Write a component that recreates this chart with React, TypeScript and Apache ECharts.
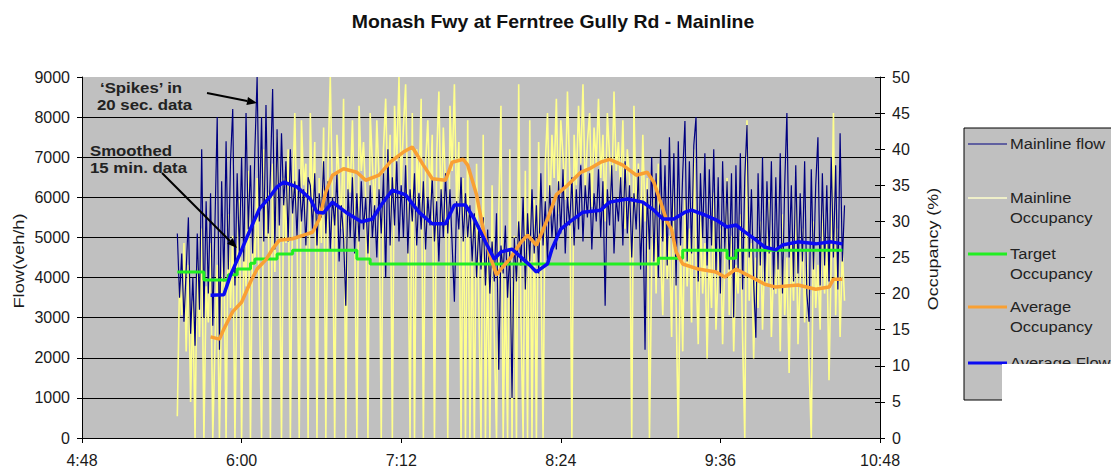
import React, { useEffect, useRef } from "react";
import * as echarts from "echarts";

const FONT = '"Liberation Sans", Arial, Helvetica, sans-serif';
const TITLE = "Monash Fwy at Ferntree Gully Rd - Mainline";
const FLOW_NAME = "Flow(veh/h)";
const OCC_AXIS_NAME = "Occupancy (%)";

// X axis: 4:48 .. 10:48 every 72 minutes (values in minutes of the day)
const X_MIN = "4:48";
const X_MAX = "10:48";
const X_STEP_MIN = 72;

// 20-sec data, read here at one sample per minute from 5:31
const RAW_START = "5:31";
const RAW_STEP_MIN = 1;
const MAINLINE_FLOW = [
  5100, 3500, 4600, 2900, 4200, 5500, 2600, 4000, 2300, 5100,
  3200, 7200, 3000, 5900, 3600, 6100, 2800, 5400, 8000, 2200,
  6400, 3900, 7400, 4200, 6900, 8200, 3800, 6600, 4600, 7000,
  4400, 8100, 5200, 6800, 4600, 7200, 9000, 5400, 8000, 4900,
  8300, 5100, 6600, 8700, 4700, 7700, 5300, 7600, 5800, 6900,
  4900, 7200, 5600, 6400, 5000, 6700, 5400, 6200, 4800, 6500,
  6300, 5200, 6600, 4800, 6100, 5500, 6900, 5100, 6400, 4700,
  6000, 5300, 6600, 4400, 5800, 5000, 3300, 6200, 5000, 6500,
  4600, 6100, 4900, 6400, 5200, 6000, 4600, 6300, 5000, 5800,
  4500, 6200, 5100, 6600, 4000, 7200, 4800, 6500, 5300, 6900,
  4900, 6300, 5000, 6800, 4600, 6200, 5400, 6600, 4800, 6100,
  5200, 6400, 4700, 6000, 5300, 6500, 4900, 5900, 4400, 6200,
  5000, 6600, 5100, 6200, 4800, 3400, 5900, 5200, 6500, 4900,
  6100, 5000, 5800, 4400, 5600, 4000, 5300, 4200, 5500, 3800,
  5200, 3600, 4900, 3900, 5600, 1700, 4800, 4100, 5300, 3500,
  4700, 1000, 5000, 3900, 5400, 4300, 6000, 3700, 5600, 4400,
  6200, 4600, 5800, 4100, 6600, 4800, 5900, 4400, 6300, 5000,
  5800, 4700, 6400, 5100, 6700, 4600, 6000, 5300, 6500, 4800,
  6200, 5200, 6800, 4900, 6300, 5500, 6600, 4700, 6100, 5400,
  6700, 5000, 6400, 3300, 6200, 5300, 6800, 4600, 6000, 5400,
  6500, 4800, 6900, 5100, 6300, 4500, 6100, 5200, 6700, 4200,
  5900, 2200, 6200, 4700, 7000, 4400, 6600, 4000, 7200, 4900,
  6800, 4300, 7500, 5000, 7100, 3800, 7400, 4800, 6600, 7900,
  4400, 6900, 4600, 7300, 8000, 3900, 6600, 5000, 7100, 4300,
  6700, 4800, 7200, 4100, 6500, 3600, 6900, 4700, 6400, 4200,
  6600, 3000, 6800, 4200, 7100, 3700, 6500, 7800, 4500, 6200,
  3900, 2500, 6600, 4300, 7000, 3900, 6400, 4600, 6900, 3700,
  6500, 4200, 7100, 3600, 6300, 8100, 4500, 6300, 3900, 6800,
  4100, 6100, 4400, 6900, 3600, 2900, 6700, 4200, 6300, 7500,
  3800, 6600, 4300, 6300, 3900, 7000, 4500, 6800, 3700, 7600,
  4400, 5800,
];
const MAINLINE_OCC = [
  3, 22, 17, 27, 12, 24, 5, 19, 0, 26,
  14, 29, 0, 21, 16, 27, 0, 13, 24, 0,
  20, 26, 0, 31, 18, 28, 0, 24, 33, 0,
  27, 21, 37, 0, 30, 24, 36, 19, 0, 40,
  28, 34, 0, 38, 23, 42, 30, 0, 36, 27,
  40, 0, 33, 45, 29, 0, 44, 35, 38, 0,
  45, 31, 41, 0, 36, 27, 43, 0, 38, 50,
  33, 0, 42, 36, 29, 47, 0, 39, 34, 44,
  30, 0, 46, 37, 41, 33, 0, 45, 38, 31,
  44, 36, 0, 40, 47, 33, 42, 0, 46, 38,
  50, 35, 43, 49, 31, 0, 45, 0, 40, 34,
  47, 0, 38, 44, 33, 42, 0, 39, 48, 30,
  43, 35, 0, 46, 37, 49, 32, 41, 0, 36,
  0, 44, 0, 30, 0, 38, 19, 0, 42, 0,
  26, 0, 35, 14, 0, 31, 46, 0, 22, 0,
  40, 0, 28, 0, 49, 17, 0, 37, 0, 44,
  0, 33, 0, 41, 25, 0, 38, 45, 30, 42,
  36, 47, 31, 44, 39, 33, 48, 37, 0, 42,
  35, 46, 38, 49, 34, 41, 45, 32, 43, 38,
  47, 36, 42, 30, 45, 39, 33, 48, 37, 41,
  34, 44, 29, 40, 36, 0, 46, 31, 38, 27,
  42, 30, 36, 0, 24, 33, 20, 38, 26, 17,
  31, 22, 28, 14, 35, 19, 0, 27, 12, 33,
  21, 29, 16, 40, 24, 13, 31, 20, 27, 11,
  26, 18, 34, 15, 23, 29, 13, 25, 36, 17,
  28, 12, 24, 20, 31, 14, 0, 44, 19, 27,
  11, 25, 18, 30, 15, 26, 21, 33, 14, 24,
  20, 28, 12, 31, 17, 25, 9, 27, 19, 34,
  13, 22, 29, 16, 26, 10, 0, 30, 18, 24,
  15, 33, 20, 27, 8, 25, 45, 17, 29, 14,
  26, 19,
];

// Target occupancy (step: each value holds until the next time)
const TARGET_TIMES = ["5:31", "5:43", "5:54", "5:58", "6:04", "6:06", "6:16", "6:23", "6:52", "6:58", "9:08", "9:19", "9:39", "9:43", "10:31"];
const TARGET_OCC = [23.0, 21.9, 22.6, 23.4, 24.2, 24.8, 25.5, 26.0, 24.8, 24.1, 24.9, 26.0, 24.9, 26.0, 26.0];

// Smoothed 15-min average occupancy
const AVG_OCC_TIMES = ["5:46", "5:50", "5:52", "5:56", "6:00", "6:04", "6:07", "6:11", "6:14", "6:17", "6:23", "6:28", "6:32", "6:35", "6:38", "6:41", "6:46", "6:52", "6:56", "7:02", "7:07", "7:13", "7:17", "7:22", "7:26", "7:32", "7:35", "7:40", "7:42", "7:46", "7:49", "7:52", "7:55", "7:57", "8:01", "8:06", "8:09", "8:13", "8:18", "8:22", "8:27", "8:33", "8:37", "8:42", "8:46", "8:52", "8:58", "9:03", "9:06", "9:09", "9:12", "9:14", "9:16", "9:19", "9:26", "9:34", "9:38", "9:43", "9:48", "9:56", "10:01", "10:11", "10:19", "10:25", "10:27", "10:31"];
const AVG_OCC = [14.0, 13.7, 15.1, 17.5, 18.8, 21.6, 23.4, 24.7, 26.2, 27.4, 27.6, 28.1, 28.5, 30.3, 34.1, 36.4, 37.3, 36.8, 35.7, 36.4, 38.2, 39.6, 40.3, 37.8, 35.9, 35.7, 38.2, 38.6, 37.8, 33.7, 28.9, 25.3, 22.6, 23.4, 24.8, 27.1, 28.1, 26.7, 30.3, 33.7, 35.0, 36.8, 37.3, 38.2, 38.6, 37.8, 36.4, 36.8, 35.4, 32.7, 29.9, 28.9, 25.8, 24.1, 23.4, 23.0, 22.3, 23.4, 22.6, 21.3, 20.9, 21.2, 20.6, 20.9, 22.0, 22.0];

// Smoothed 15-min average flow
const AVG_FLOW_TIMES = ["5:46", "5:52", "5:55", "5:59", "6:04", "6:08", "6:12", "6:16", "6:19", "6:25", "6:31", "6:34", "6:37", "6:41", "6:47", "6:54", "6:59", "7:03", "7:08", "7:14", "7:20", "7:26", "7:32", "7:36", "7:41", "7:45", "7:50", "7:54", "7:57", "8:02", "8:06", "8:10", "8:13", "8:18", "8:20", "8:24", "8:28", "8:34", "8:42", "8:46", "8:54", "9:01", "9:06", "9:10", "9:15", "9:20", "9:23", "9:29", "9:34", "9:39", "9:43", "9:47", "9:52", "9:56", "10:01", "10:04", "10:11", "10:19", "10:26", "10:31"];
const AVG_FLOW = [3560, 3570, 4060, 4560, 5210, 5710, 5960, 6260, 6380, 6260, 5960, 5630, 5610, 5880, 5630, 5390, 5460, 5810, 6180, 6060, 5630, 5340, 5340, 5810, 5810, 5460, 4890, 4460, 4640, 4710, 4510, 4310, 4140, 4340, 4710, 5210, 5390, 5630, 5680, 5880, 5960, 5880, 5680, 5460, 5460, 5630, 5680, 5560, 5440, 5260, 5310, 5140, 4940, 4760, 4690, 4810, 4890, 4840, 4890, 4840];

const SERIES_NAMES = ["Mainline flow", "Mainline Occupancy", "Target Occupancy", "Average Occupancy", "Average Flow"];
const COLORS = { flow: "#000080", occ: "#FFFF8C", target: "#22EE22", avgOcc: "#F9A033", avgFlow: "#0B0BF2" };

const toMin = (s: string) => {
  const [h, m] = s.split(":").map(Number);
  return h * 60 + m;
};
const fmtMin = (v: number) => `${Math.floor(v / 60)}:${String(Math.round(v % 60)).padStart(2, "0")}`;
const pairs = (times: string[], vals: number[]) => vals.map((v, i) => [toMin(times[i]), v]);
const regular = (start: string, step: number, vals: number[]) => vals.map((v, i) => [toMin(start) + i * step, v]);

function txt(text: string, x: number, y: number, size: number, opts: any = {}) {
  return {
    type: "text",
    x,
    y,
    z: opts.z ?? 100,
    rotation: opts.rotation ?? 0,
    scaleX: opts.scaleX ?? 1,
    scaleY: 1,
    style: {
      text,
      fill: opts.fill ?? "#1a1a1a",
      font: `${opts.bold ? "bold " : ""}${size}px ${FONT}`,
      align: opts.align ?? "left",
      textAlign: opts.align ?? "left",
      verticalAlign: "middle",
      textVerticalAlign: "middle",
    },
  };
}

function arrow(x1: number, y1: number, x2: number, y2: number) {
  const dx = x2 - x1, dy = y2 - y1;
  const len = Math.hypot(dx, dy);
  const ux = dx / len, uy = dy / len;
  const bx = x2 - ux * 10, by = y2 - uy * 10;
  const px = -uy * 4, py = ux * 4;
  return [
    { type: "line", z: 100, shape: { x1, y1, x2: bx, y2: by }, style: { stroke: "#000", lineWidth: 2 } },
    { type: "polygon", z: 100, shape: { points: [[x2, y2], [bx + px, by + py], [bx - px, by - py]] }, style: { fill: "#000" } },
  ];
}

function legendGraphics() {
  const left = 964, top = 128;
  const items: any[] = [
    { type: "rect", z: 99, shape: { x: left, y: top, width: 220, height: 272 }, style: { fill: "#C0C0C0", stroke: "#000", lineWidth: 1 } },
  ];
  const rows = [
    { lines: ["Mainline flow"], y: 144, color: COLORS.flow, w: 1 },
    { lines: ["Mainline", "Occupancy"], y: 198, color: "#FFFFCC", w: 1.5 },
    { lines: ["Target", "Occupancy"], y: 254, color: COLORS.target, w: 3 },
    { lines: ["Average", "Occupancy"], y: 307, color: COLORS.avgOcc, w: 3 },
    { lines: ["Average Flow"], y: 363, color: COLORS.avgFlow, w: 3 },
  ];
  rows.forEach((r) => {
    items.push({ type: "line", z: 100, shape: { x1: 968, y1: r.y, x2: 1007, y2: r.y }, style: { stroke: r.color, lineWidth: r.w } });
    r.lines.forEach((l, i) => items.push(txt(l, 1010, r.y + i * 20, 15, { scaleX: 1.1, fill: "#222" })));
  });
  items.push({ type: "rect", z: 110, shape: { x: 1002, y: 364, width: 130, height: 60 }, style: { fill: "#ffffff" } });
  return items;
}

export default function App() {
  const ref = useRef<HTMLDivElement>(null);
  useEffect(() => {
    document.body.style.margin = "0";
    if (!ref.current) return;
    const chart = echarts.init(ref.current, undefined, { renderer: "svg" });
    const axisBlack = { lineStyle: { color: "#000", width: 1 } };
    const option: any = {
      animation: false,
      backgroundColor: "#ffffff",
      textStyle: { fontFamily: FONT },
      legend: { show: false, data: SERIES_NAMES },
      grid: { left: 82, top: 77, width: 798, height: 361, show: true, backgroundColor: "#C0C0C0", borderWidth: 0 },
      xAxis: {
        type: "value",
        min: toMin(X_MIN),
        max: toMin(X_MAX),
        interval: X_STEP_MIN,
        axisLine: { show: true, ...axisBlack },
        axisTick: { show: true, length: 5, ...axisBlack },
        axisLabel: { formatter: (v: number) => fmtMin(v), color: "#1a1a1a", fontSize: 16, margin: 14, fontFamily: FONT },
        splitLine: { show: false },
      },
      yAxis: [
        {
          type: "value", min: 0, max: 9000, interval: 1000, position: "left",
          axisLine: { show: true, ...axisBlack },
          axisTick: { show: true, length: 5, ...axisBlack },
          axisLabel: { color: "#1a1a1a", fontSize: 16, margin: 12, fontFamily: FONT, formatter: (v: number) => String(v) },
          splitLine: { show: true, showMaxLine: false, lineStyle: { color: "#000", width: 1 } },
        },
        {
          type: "value", min: 0, max: 50, interval: 5, position: "right",
          axisLine: { show: true, ...axisBlack },
          axisTick: { show: true, length: 5, ...axisBlack },
          axisLabel: { color: "#1a1a1a", fontSize: 16, margin: 12, fontFamily: FONT, formatter: (v: number) => String(v) },
          splitLine: { show: false },
        },
        {
          type: "value", min: 0, max: 50, interval: 5, position: "right",
          axisLine: { show: false },
          axisTick: { show: true, inside: true, length: 5, ...axisBlack },
          axisLabel: { show: false },
          splitLine: { show: false },
        },
      ],
      series: [
        {
          name: SERIES_NAMES[1], type: "line", yAxisIndex: 1, symbol: "none", showSymbol: false, z: 2,
          lineStyle: { color: COLORS.occ, width: 1.6 }, data: regular(RAW_START, RAW_STEP_MIN, MAINLINE_OCC),
        },
        {
          name: SERIES_NAMES[0], type: "line", yAxisIndex: 0, symbol: "none", showSymbol: false, z: 3,
          lineStyle: { color: COLORS.flow, width: 1.2 }, data: regular(RAW_START, RAW_STEP_MIN, MAINLINE_FLOW),
        },
        {
          name: SERIES_NAMES[2], type: "line", yAxisIndex: 1, step: "end", symbol: "none", showSymbol: false, z: 4,
          lineStyle: { color: COLORS.target, width: 3 }, data: pairs(TARGET_TIMES, TARGET_OCC),
        },
        {
          name: SERIES_NAMES[3], type: "line", yAxisIndex: 1, symbol: "none", showSymbol: false, z: 5,
          lineStyle: { color: COLORS.avgOcc, width: 3.5 }, data: pairs(AVG_OCC_TIMES, AVG_OCC),
        },
        {
          name: SERIES_NAMES[4], type: "line", yAxisIndex: 0, symbol: "none", showSymbol: false, z: 6,
          lineStyle: { color: COLORS.avgFlow, width: 3.5 }, data: pairs(AVG_FLOW_TIMES, AVG_FLOW),
        },
      ],
      graphic: [
        txt(TITLE, 553, 22, 18, { bold: true, align: "center", scaleX: 1.08, fill: "#111" }),
        txt(FLOW_NAME, 19, 261, 14, { align: "center", rotation: Math.PI / 2, scaleX: 1.3 }),
        txt(OCC_AXIS_NAME, 933, 249, 14, { align: "center", rotation: Math.PI / 2, scaleX: 1.28 }),
        txt("\u2018Spikes\u2019 in", 100, 88, 15, { bold: true, scaleX: 1.12, fill: "#222" }),
        txt("20 sec. data", 97, 105, 15, { bold: true, scaleX: 1.12, fill: "#222" }),
        txt("Smoothed", 90, 151, 15, { bold: true, scaleX: 1.12, fill: "#222" }),
        txt("15 min. data", 90, 168, 15, { bold: true, scaleX: 1.12, fill: "#222" }),
        ...arrow(207, 93, 257, 103),
        ...arrow(162, 173, 237, 248),
        ...legendGraphics(),
      ],
    };
    chart.setOption(option);
    return () => chart.dispose();
  }, []);
  return <div ref={ref} style={{ width: 1111, height: 472 }} />;
}
